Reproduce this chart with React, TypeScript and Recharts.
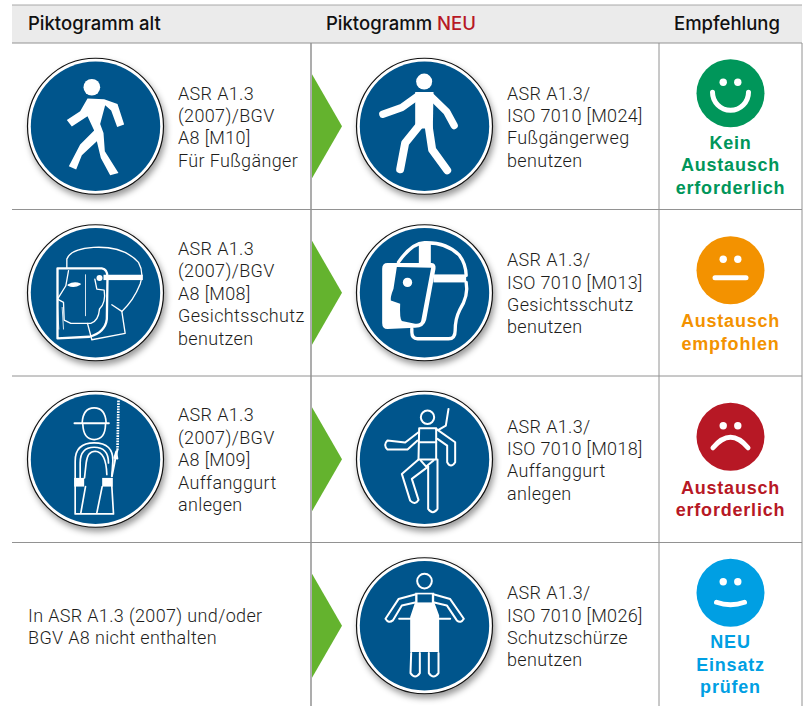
import { ScatterChart, Scatter, XAxis, YAxis, ReferenceArea, ReferenceLine } from "recharts";

// table content
const headerOld = "Piktogramm alt";
const headerNew = "Piktogramm ";
const headerNewAccent = "NEU";
const headerAdvice = "Empfehlung";

const oldSigns = ["walkOld", "faceOld", "harnessOld", null];
const newSigns = ["walkNew", "faceNew", "harnessNew", "apron"];
const moods = ["happy", "neutral", "sad", "fresh"];

const oldLabels = [
  ["ASR A1.3", "(2007)/BGV", "A8 [M10]", "Für Fußgänger"],
  ["ASR A1.3", "(2007)/BGV", "A8 [M08]", "Gesichtsschutz", "benutzen"],
  ["ASR A1.3", "(2007)/BGV", "A8 [M09]", "Auffanggurt", "anlegen"],
  ["In ASR A1.3 (2007) und/oder", "BGV A8 nicht enthalten"],
];
const newLabels = [
  ["ASR A1.3/", "ISO 7010 [M024]", "Fußgängerweg", "benutzen"],
  ["ASR A1.3/", "ISO 7010 [M013]", "Gesichtsschutz", "benutzen"],
  ["ASR A1.3/", "ISO 7010 [M018]", "Auffanggurt", "anlegen"],
  ["ASR A1.3/", "ISO 7010 [M026]", "Schutzschürze", "benutzen"],
];
const adviceLabels = [
  ["Kein", "Austausch", "erforderlich"],
  ["Austausch", "empfohlen"],
  ["Austausch", "erforderlich"],
  ["NEU", "Einsatz", "prüfen"],
];

// layout: x in px, y in table rows
const ROW_H = 166.5;
const HEAD_TOP = -38 / ROW_H;
const Y_MIN = -43 / ROW_H;
const Y_MAX = 663 / ROW_H;
const COL = { oldSign: 95.5, oldText: 178, oldWide: 28, split: 311, arrow: 312, newSign: 424.5, newText: 507, advSplit: 659, adv: 730.5, right: 802, left: 12 };

const FONT = "Roboto, sans-serif";
const BOLD_FONT = "'Liberation Sans', sans-serif";
const TEXT = "#1d1d1b";
const BLUE = "#00558c";
const LINE = "#929292";
const moodColor: Record<string, string> = { happy: "#00965a", neutral: "#f39200", sad: "#b71825", fresh: "#009fe3" };

const rowIdx = [0, 1, 2, 3];
const oldSignData = rowIdx.filter((r) => oldSigns[r]).map((r) => ({ x: COL.oldSign, y: r + 0.5, id: oldSigns[r] }));
const newSignData = rowIdx.map((r) => ({ x: COL.newSign, y: r + 0.5, id: newSigns[r] }));
const arrowData = rowIdx.map((r) => ({ x: COL.arrow, y: r + 0.5 }));
const textData = rowIdx.flatMap((r) => [
  { x: oldSigns[r] ? COL.oldText : COL.oldWide, y: r + 0.5, lines: oldLabels[r] },
  { x: COL.newText, y: r + 0.5, lines: newLabels[r] },
]);
const adviceData = rowIdx.map((r) => ({ x: COL.adv, y: r + 0.5, mood: moods[r], lines: adviceLabels[r] }));
const headerY = (HEAD_TOP + 0) / 2;
const headerData = [
  { x: 28, y: headerY, label: headerOld, anchor: "start" },
  { x: 326, y: headerY, label: headerNew, accent: headerNewAccent, anchor: "start" },
  { x: 727, y: headerY, label: headerAdvice, anchor: "middle" },
];

const thin = { fill: "none", stroke: "#fff", strokeLinejoin: "round" as const, strokeLinecap: "round" as const };

// glyphs are drawn in 3x units around their own circle centre
const glyphs: Record<string, { c: [number, number]; art: React.ReactNode }> = {
  walkOld: {
    c: [286, 375],
    art: (
      <g fill="#fff">
        <circle cx={275} cy={258} r={25} />
        <path d="M262 292 L312 294 L352 308 L372 370 L351 377 L333 328 L315 312 L300 368 L310 395 L314 450 L355 515 L330 522 L302 470 L290 420 L245 462 L228 505 L206 495 L240 430 L282 388 L262 345 L215 376 L200 356 L240 330 Z" />
      </g>
    ),
  },
  walkNew: {
    c: [373, 378],
    art: (
      <g>
        <circle cx={372} cy={244} r={24} fill="#fff" />
        <path d="M345 275 L400 275 L398 385 L345 385 Z" fill="#fff" />
        <path d="M248 342 L305 322 L352 288" fill="none" stroke="#fff" strokeWidth={22} strokeLinecap="round" strokeLinejoin="round" />
        <path d="M392 288 L440 335 L462 376" fill="none" stroke="#fff" strokeWidth={22} strokeLinecap="round" strokeLinejoin="round" />
        <path d="M358 375 L315 428 L300 507" fill="none" stroke="#fff" strokeWidth={24} strokeLinecap="round" strokeLinejoin="round" />
        <path d="M385 375 L396 448 L441 510" fill="none" stroke="#fff" strokeWidth={24} strokeLinecap="round" strokeLinejoin="round" />
      </g>
    ),
  },
  faceOld: {
    c: [286, 876],
    art: (
      <g {...thin} strokeWidth={4}>
        <path d="M200 800 L200 775 Q210 745 280 740 Q370 735 415 785 Q432 815 420 850 Q400 900 365 932" />
        <path d="M335 912 L365 932 L375 998 L275 1017 L262 968" />
        <rect x={310} y={822} width={118} height={16} fill="#fff" stroke="none" />
        <path d="M172 803 L305 803 Q322 805 322 830 L320 955 Q315 995 268 1008 L172 1013 Z" strokeWidth={7} />
        <path d="M205 810 L197 855 L172 895 L190 905 L192 958 L212 968 L272 968 Q295 960 298 925" />
        <path d="M284 835 L290 865 L312 868 Q318 905 298 925" />
        <circle cx={298} cy={832} r={9} fill="#fff" stroke="none" />
        <path d="M204 853 Q222 842 240 850 Q222 862 204 853 Z" fill="#fff" />
        <path d="M256 822 L256 945 M172 920 L176 985 M186 920 L190 985" strokeWidth={2.5} />
      </g>
    ),
  },
  faceNew: {
    c: [373, 877],
    art: (
      <g>
        <path d="M295 785 Q335 728 373 727 Q440 725 478 765 Q497 790 498 825" {...thin} strokeWidth={10} />
        <rect x={356} y={725} width={36} height={70} fill="#fff" />
        <rect x={400} y={822} width={98} height={24} fill="#fff" />
        <path d="M498 846 Q506 885 478 930 Q465 955 465 990 Q465 1015 445 1015 L352 1015 Q335 1015 335 995 L335 985" {...thin} strokeWidth={10} />
        <path d="M262 788 L395 788 Q408 790 406 805 L378 958 Q372 982 345 982 L262 986 Q246 986 246 968 L246 805 Q246 788 262 788 Z" fill="#fff" />
        <path d="M290 800 L393 802 L363 962 Q360 972 345 970 L305 962 Q298 955 300 910 L272 900 Q270 890 280 865 Z" fill={BLUE} />
        <circle cx={322} cy={846} r={14} fill="#fff" />
      </g>
    ),
  },
  harnessOld: {
    c: [286, 294],
    art: (
      <g {...thin} strokeWidth={5}>
        <path d="M223 186 L326 186" strokeWidth={6} />
        <path d="M246 186 Q248 140 282 140 Q316 140 318 186" />
        <path d="M248 190 Q250 235 282 235 Q315 235 316 190" />
        <path d="M225 455 L225 300 Q225 245 282 245 Q340 245 338 300 L335 345" />
        <path d="M240 350 L240 305 Q240 258 282 258 Q325 258 325 305" />
        <path d="M253 350 L258 305 Q262 270 285 270 Q318 272 320 340" />
        <path d="M355 118 L352 265" strokeWidth={8} strokeDasharray="5 3" strokeLinecap="butt" />
        <path d="M352 265 L345 295 L335 345" strokeWidth={6} />
        <path d="M348 270 L342 290 L352 292 Z" />
        <rect x={222} y={350} width={30} height={26} fill="#fff" stroke="none" />
        <rect x={306} y={350} width={32} height={26} fill="#fff" stroke="none" />
        <path d="M225 458 L340 458 L335 376 M242 455 L256 376 M290 455 L306 376" />
      </g>
    ),
  },
  harnessNew: {
    c: [373, 296],
    art: (
      <g {...thin} strokeWidth={6}>
        <circle cx={382} cy={170} r={20} />
        <path d="M357 203 L408 203 L408 297 L355 297 Z" />
        <path d="M357 245 L408 245" />
        <path d="M355 215 L315 246 L262 240 Q248 253 262 267 L322 267 L352 240" />
        <path d="M408 205 L465 245 L465 305 Q452 325 441 305 L441 255 L412 235" />
        <path d="M445 145 L437 195 L415 208" />
        <path d="M355 297 L305 340 L330 420 Q345 435 355 418 L335 355 L384 318" />
        <path d="M362 300 L378 318 L400 300" />
        <path d="M384 318 L384 445 Q398 465 412 445 L412 297" />
      </g>
    ),
  },
  apron: {
    c: [373, 796],
    art: (
      <g>
        <circle cx={373} cy={662} r={22} {...thin} strokeWidth={6} />
        <path d="M345 697 L402 697 L402 725 L417 765 L417 875 L330 875 L330 770 L345 725 Z" fill="#fff" />
        <rect x={352} y={702} width={43} height={24} fill={BLUE} />
        <g {...thin} strokeWidth={6}>
          <path d="M345 702 L295 716 L256 775 Q265 790 278 780 L305 735 L345 726" />
          <path d="M402 702 L450 716 L491 775 Q482 790 470 780 L440 735 L402 726" />
          <path d="M297 775 L330 775 M417 775 L450 775" />
          <path d="M333 878 L331 938 Q345 958 359 938 L359 878" />
          <path d="M386 878 L386 938 Q400 958 415 938 L415 878" />
        </g>
      </g>
    ),
  },
};

function Sign(props: any) {
  const { cx, cy, payload } = props;
  const g = glyphs[payload.id];
  return (
    <g transform={`translate(${cx},${cy})`}>
      <circle r={68} fill="#fff" stroke="#111" strokeWidth={1.2} style={{ filter: "drop-shadow(2px 4px 3px rgba(0,0,0,0.4))" }} />
      <circle r={64.7} fill={BLUE} />
      <g transform={`scale(${1 / 3}) translate(${-g.c[0]},${-g.c[1]})`}>{g.art}</g>
    </g>
  );
}

function Arrow(props: any) {
  const { cx, cy } = props;
  return <path d={`M${cx} ${cy - 52} L${cx + 30} ${cy} L${cx} ${cy + 52} Z`} fill="#64b32e" />;
}

function Lines(props: any) {
  const { cx, cy, payload } = props;
  const first = cy + 7 - ((payload.lines.length - 1) / 2) * 22.4;
  return (
    <text x={cx} fontFamily={FONT} fontWeight={300} fontSize={18} letterSpacing={0.35} fill={TEXT}>
      {payload.lines.map((l: string, i: number) => (
        <tspan key={i} x={cx} y={first + i * 22.4}>
          {l}
        </tspan>
      ))}
    </text>
  );
}

function Advice(props: any) {
  const { cx, cy, payload } = props;
  const three = payload.lines.length === 3;
  const faceY = three ? -33 : -22.5;
  const first = three ? 22.5 : 34.5;
  const color = moodColor[payload.mood];
  const mouth: Record<string, string> = {
    happy: "M-18 -1 A18 18 0 0 0 18 -1",
    neutral: "M-15.5 7.5 H15.5",
    sad: "M-17.5 11 Q0 -10 17.5 11",
    fresh: "M-14 9.5 Q0 14.5 14 9.5",
  };
  return (
    <g>
      <g transform={`translate(${cx},${cy + faceY})`}>
        <circle r={34} fill={color} />
        <circle cx={-7.3} cy={-11} r={3.7} fill="#fff" />
        <circle cx={7.3} cy={-11} r={3.7} fill="#fff" />
        <path d={mouth[payload.mood]} fill="none" stroke="#fff" strokeWidth={5} strokeLinecap="round" />
      </g>
      <text textAnchor="middle" fontFamily={BOLD_FONT} fontWeight={700} fontSize={18} letterSpacing={0.8} fill={color}>
        {payload.lines.map((l: string, i: number) => (
          <tspan key={i} x={cx} y={cy + first + i * 22.4}>
            {l}
          </tspan>
        ))}
      </text>
    </g>
  );
}

function HeaderCell(props: any) {
  const { cx, cy, payload } = props;
  return (
    <text x={cx} y={cy + 6} textAnchor={payload.anchor} fontFamily="Inter, sans-serif" fontWeight={500} fontSize={18.5} fill="#111">
      {payload.label}
      {payload.accent && <tspan fill="#b71825">{payload.accent}</tspan>}
    </text>
  );
}

const rowLines = [0, 1, 2, 3];
const colLines = [COL.split, COL.advSplit, COL.right];

export default function App() {
  return (
    <div style={{ position: "absolute", left: 0, top: 0, width: 808, height: 706, background: "#fff" }}>
      <ScatterChart width={808} height={706} margin={{ top: 0, right: 0, bottom: 0, left: 0 }}>
        <XAxis type="number" dataKey="x" domain={[0, 808]} hide />
        <YAxis type="number" dataKey="y" domain={[Y_MIN, Y_MAX]} hide width={0} reversed />
        <ReferenceArea x1={COL.left} x2={COL.right} y1={HEAD_TOP} y2={0} fill="#ebebeb" fillOpacity={1} stroke="none" />
        <ReferenceLine segment={[{ x: COL.left, y: HEAD_TOP }, { x: COL.right, y: HEAD_TOP }]} stroke="#a8a8a8" strokeWidth={1} />
        {rowLines.map((r) => (
          <ReferenceLine key={r} segment={[{ x: COL.left, y: r }, { x: COL.right, y: r }]} stroke={LINE} strokeWidth={1} />
        ))}
        {colLines.map((x) => (
          <ReferenceLine key={x} segment={[{ x, y: 0 }, { x, y: Y_MAX }]} stroke={LINE} strokeWidth={x === COL.split ? 1.5 : 1} />
        ))}
        <Scatter data={headerData} shape={HeaderCell} isAnimationActive={false} />
        <Scatter data={arrowData} shape={Arrow} isAnimationActive={false} />
        <Scatter data={oldSignData} shape={Sign} isAnimationActive={false} />
        <Scatter data={newSignData} shape={Sign} isAnimationActive={false} />
        <Scatter data={textData} shape={Lines} isAnimationActive={false} />
        <Scatter data={adviceData} shape={Advice} isAnimationActive={false} />
      </ScatterChart>
    </div>
  );
}
